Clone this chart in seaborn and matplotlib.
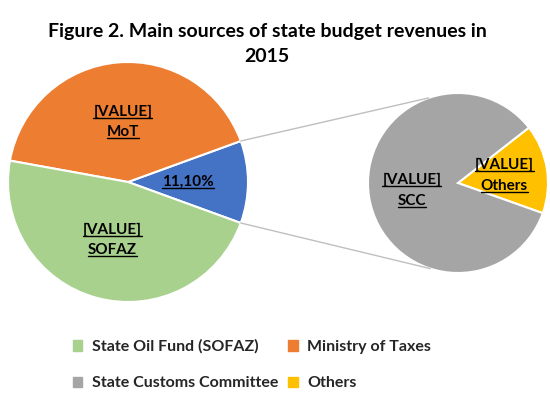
import matplotlib
matplotlib.use("Agg")
import matplotlib.pyplot as plt
from matplotlib.patches import ConnectionPatch
from matplotlib.lines import Line2D
import numpy as np
import seaborn as sns

sns.set_theme(style="white")
plt.rcParams['font.family'] = ['Lato', 'DejaVu Sans']

# main pie (in %)
main_names = ['Others', 'MoT', 'SOFAZ']
main_values = [11.1, 41.6, 47.3]
main_labels = ['11,10%', '[VALUE]\nMoT', '[VALUE]\nSOFAZ']
main_colors = ['#4472C4', '#ED7D31', '#A9D18E']

# secondary pie, breakdown of "Others"
sub_names = ['Others', 'SCC']
sub_values = [16.0, 84.0]
sub_labels = ['[VALUE]\nOthers', '[VALUE]\nSCC']
sub_colors = ['#FFC000', '#A5A5A5']

legend_names = ['State Oil Fund (SOFAZ)', 'State Customs Committee', 'Ministry of Taxes', 'Others']
legend_colors = ['#A9D18E', '#A5A5A5', '#ED7D31', '#FFC000']

W, H = 550, 397
fig = plt.figure(figsize=(W / 100, H / 100), dpi=100)


def px_axes(cx, cy, r):
    return fig.add_axes([(cx - r) / W, (H - cy - r) / H, 2 * r / W, 2 * r / H])


ax1 = px_axes(128, 182, 120)
ax2 = px_axes(458, 183, 90)

wedges1, _ = ax1.pie(main_values, colors=main_colors, startangle=-main_values[0] * 3.6 / 2,
                     radius=1, wedgeprops=dict(edgecolor='white', linewidth=1.5))
wedges2, _ = ax2.pie(sub_values, colors=sub_colors, startangle=-19.6,
                     radius=1, wedgeprops=dict(edgecolor='white', linewidth=1.5))

texts = []


def put_labels(ax, wedges, labels, dist):
    for w, lab in zip(wedges, labels):
        ang = np.deg2rad((w.theta1 + w.theta2) / 2)
        x, y = dist * np.cos(ang), dist * np.sin(ang)
        lines = lab.split('\n')
        n = len(lines)
        for i, line in enumerate(lines):
            off = (i - (n - 1) / 2) * -0.17
            t = ax.text(x, y + off * (120 / 90 if ax is ax2 else 1), line, ha='center', va='center',
                        fontsize=11, fontweight='bold', color='black')
            texts.append((ax, t))


put_labels(ax1, wedges1, main_labels, 0.5)
put_labels(ax2, wedges2, sub_labels, 0.52)

for ax in (ax1, ax2):
    ax.set_xlim(-1, 1)
    ax.set_ylim(-1, 1)
    ax.set_aspect('equal')
    ax.axis('off')

# connector lines between the Others slice and the second pie
w = wedges1[0]
for a1, a2 in ((w.theta2, 109), (w.theta1, -108)):
    p1 = (np.cos(np.deg2rad(a1)), np.sin(np.deg2rad(a1)))
    p2 = (np.cos(np.deg2rad(a2)), np.sin(np.deg2rad(a2)))
    con = ConnectionPatch(xyA=p1, coordsA=ax1.transData, xyB=p2, coordsB=ax2.transData,
                          color='#BFBFBF', linewidth=1)
    fig.add_artist(con)

# underline labels
fig.canvas.draw()
renderer = fig.canvas.get_renderer()
inv = fig.transFigure.inverted()
for ax, t in texts:
    bb = t.get_window_extent(renderer)
    (x0, y0), (x1, y1) = inv.transform([(bb.x0, bb.y0 + 1), (bb.x1, bb.y0 + 1)])
    fig.add_artist(Line2D([x0, x1], [y0, y1], color='black', linewidth=1, transform=fig.transFigure))

fig.text(267 / W, 1 - 32 / H, 'Figure 2. Main sources of state budget revenues in',
         ha='center', va='center', fontsize=14, fontweight='bold', color='black')
fig.text(267 / W, 1 - 56 / H, '2015', ha='center', va='center',
         fontsize=14, fontweight='bold', color='black')

handles = [plt.Rectangle((0, 0), 1, 1, color=c) for c in legend_colors]
leg = fig.legend(handles, legend_names, ncol=2, loc='center', bbox_to_anchor=(252 / W, 1 - 365 / H),
                 frameon=False, handlelength=0.6, handleheight=0.6, handletextpad=0.6,
                 columnspacing=0.6, labelspacing=1.4,
                 prop=dict(family='Lato', weight='bold', size=11.5))

fig.savefig('out.png', dpi=100, facecolor='white')
